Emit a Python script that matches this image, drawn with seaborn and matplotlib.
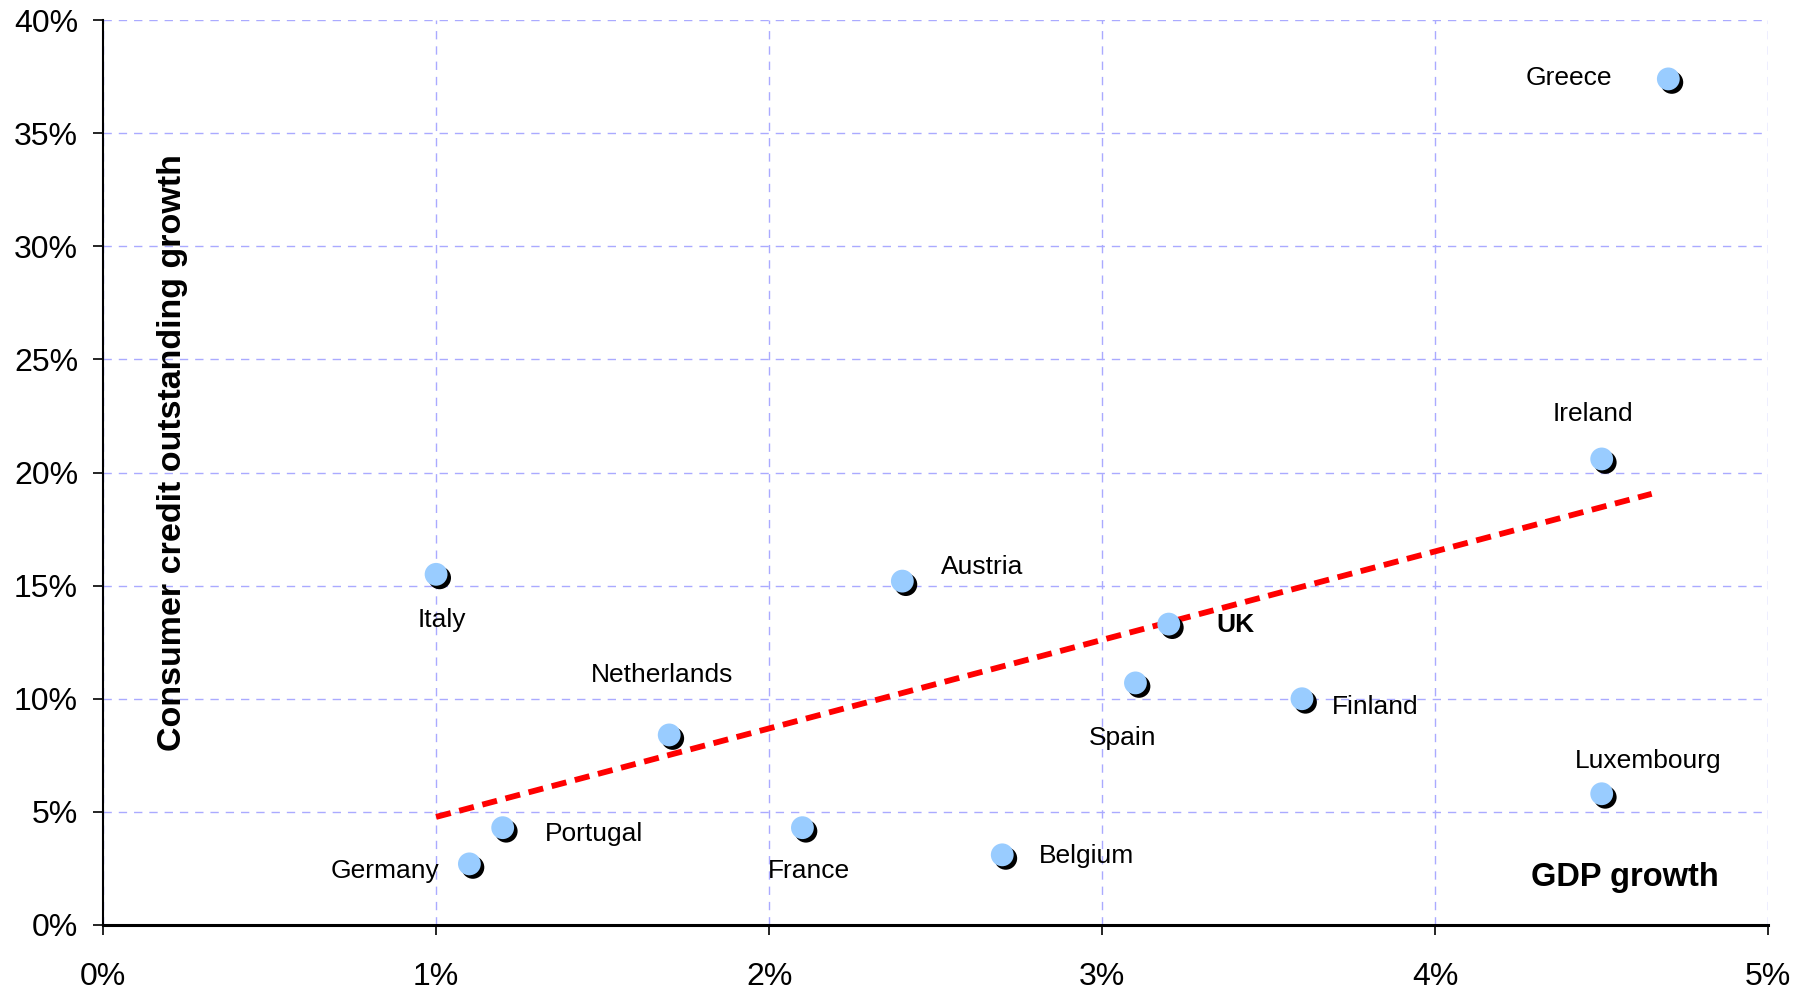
import numpy as np
import pandas as pd
import matplotlib
matplotlib.use("Agg")
import matplotlib.pyplot as plt
import matplotlib.transforms as mtransforms
from matplotlib.ticker import FuncFormatter, MultipleLocator
import seaborn as sns

# data (percent)
countries = ["Greece", "Ireland", "Italy", "Austria", "UK", "Spain", "Finland",
             "Netherlands", "Luxembourg", "Portugal", "France", "Germany", "Belgium"]
gdp_growth = [4.7, 4.5, 1.0, 2.4, 3.2, 3.1, 3.6, 1.7, 4.5, 1.2, 2.1, 1.1, 2.7]
credit_growth = [37.4, 20.6, 15.5, 15.2, 13.3, 10.7, 10.0, 8.4, 5.8, 4.3, 4.3, 2.7, 3.1]

df = pd.DataFrame({"country": countries, "gdp": gdp_growth, "credit": credit_growth})

# label offsets in pixels (layout only)
label_offsets = {
    "Greece": (-99, 1), "Ireland": (-9, 45), "Italy": (6, -46), "Austria": (80, 14),
    "UK": (67, -1), "Spain": (-13, -55), "Finland": (73, -8), "Netherlands": (-7, 60),
    "Luxembourg": (46, 33), "Portugal": (91, -6), "France": (7, -43),
    "Germany": (-84, -7), "Belgium": (84, -1),
}

sns.set_style("white")
plt.rcParams["font.family"] = ["Liberation Sans", "DejaVu Sans"]
plt.rcParams["text.color"] = "black"

fig = plt.figure(figsize=(18.08, 9.9), dpi=100)
ax = fig.add_axes([0.057, 0.0657, 0.921, 0.914])

# linear trend line (Excel-style) from the data
slope, intercept = np.polyfit(df["gdp"], df["credit"], 1)
trend_x = np.array([df["gdp"].min(), df["gdp"].max() - 0.05])
sns.lineplot(x=trend_x, y=slope * trend_x + intercept, ax=ax, color="#FF0000",
             lw=4.2, dashes=False, zorder=2)
ax.lines[-1].set_dashes((2.6, 1.5))

# shadow then markers
sns.scatterplot(data=df, x="gdp", y="credit", ax=ax, s=270, color="black",
                edgecolor="none", linewidth=0, zorder=3)
shadow = ax.collections[-1]
shadow.set_offset_transform(ax.transData + mtransforms.ScaledTranslation(
    0.035, -0.035, fig.dpi_scale_trans))
sns.scatterplot(data=df, x="gdp", y="credit", ax=ax, s=270, color="#99CCFF",
                edgecolor="none", linewidth=0, zorder=4)

for _, row in df.iterrows():
    dx, dy = label_offsets[row["country"]]
    ax.annotate(row["country"], (row["gdp"], row["credit"]), xytext=(dx, dy),
                textcoords="offset pixels", ha="center", va="center",
                fontsize=19, color="black",
                fontweight="bold" if row["country"] == "UK" else "normal",
                zorder=5)

ax.set_xlim(0, 5)
ax.set_ylim(0, 40)
ax.xaxis.set_major_locator(MultipleLocator(1))
ax.yaxis.set_major_locator(MultipleLocator(5))
ax.xaxis.set_major_formatter(FuncFormatter(lambda v, p: f"{v:.0f}%"))
ax.yaxis.set_major_formatter(FuncFormatter(lambda v, p: f"{v:.0f}%"))
ax.tick_params(axis="both", labelsize=23, direction="out", length=7, width=1.2,
               color="black", labelcolor="black")
ax.tick_params(axis="x", pad=20, bottom=True)
ax.tick_params(axis="y", pad=11, left=True)

ax.grid(True, color="#AAAAFF", linestyle=(0, (6, 5)), linewidth=1.0, zorder=0)
ax.set_axisbelow(True)

for side in ["top", "right"]:
    ax.spines[side].set_visible(False)
ax.spines["left"].set_color("black")
ax.spines["left"].set_linewidth(1.5)
ax.spines["bottom"].set_color("black")
ax.spines["bottom"].set_linewidth(2.2)

ax.set_xlabel("")
ax.set_ylabel("")
ax.text(0.042, 0.522, "Consumer credit outstanding growth", transform=ax.transAxes,
        rotation=90, ha="center", va="center", fontsize=24.5, fontweight="bold",
        color="black")
ax.text(0.914, 0.052, "GDP growth", transform=ax.transAxes, ha="center",
        va="center", fontsize=23.5, fontweight="bold", color="black")

fig.savefig("out.png", dpi=100)
